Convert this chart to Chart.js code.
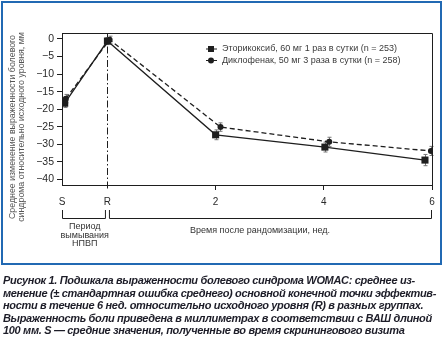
<!DOCTYPE html>
<html lang="ru">
<head>
<meta charset="utf-8">
<script src="https://cdn.jsdelivr.net/npm/chart.js@4.4.0/dist/chart.umd.min.js"></script>
<style>
    body { margin: 0; background: #fff; }
    #wrap { position: relative; width: 443px; height: 338px; overflow: hidden; }
    #myChart { position: absolute; left: 0; top: 0; }
    #frame {
        position: absolute; left: 1px; top: 1px; width: 441px; height: 264px;
        box-sizing: border-box; border: 2px solid #2169b3; pointer-events: none;
    }
    #caption {
        position: absolute; left: 3px; top: 274px; white-space: nowrap;
        font: italic bold 11px "Liberation Sans", Arial, sans-serif;
        letter-spacing: -0.33px;
        line-height: 12.6px; color: #1d1d28;
    }
</style>
</head>
<body>
<div id="wrap">
    <canvas id="myChart" width="443" height="266"></canvas>
    <div id="frame"></div>
    <div id="caption">
        Рисунок 1. Подшкала выраженности болевого синдрома WOMAC: среднее из-<br>
        менение (± стандартная ошибка среднего) основной конечной точки эффектив-<br>
        ности в течение 6 нед. относительно исходного уровня (R) в разных группах.<br>
        Выраженность боли приведена в миллиметрах в соответствии с ВАШ длиной<br>
        100 мм. S — средние значения, полученные во время скринингового визита
    </div>
</div>
<script>
// time points, weeks (S = screening visit, R = randomisation)
const xTickValues = [-0.84, 0, 2, 4, 6];
const xTickLabels = ['S', 'R', '2', '4', '6'];
const yTickValues = [0, -5, -10, -15, -20, -25, -30, -35, -40];

const etoLabel = 'Эторикоксиб, 60 мг 1 раз в сутки (n = 253)';
const etoX = [-0.79, 0, 2, 4.02, 5.87];
const etoY = [-18.3, -0.6, -27.3, -30.8, -34.5];
const etoErr = [1.2, 1.0, 1.4, 1.4, 1.6];

const dicloLabel = 'Диклофенак, 50 мг 3 раза в сутки (n = 258)';
const dicloX = [-0.77, 0.04, 2.09, 4.1, 5.98];
const dicloY = [-17.0, -0.2, -25.1, -29.3, -31.9];
const dicloErr = [1.2, 1.0, 1.2, 1.3, 1.3];

const yTitle = ['Среднее изменение выраженности болевого', 'синдрома относительно исходного уровня, мм'];
const washoutLabel = ['Период', 'вымывания', 'НПВП'];
const afterLabel = 'Время после рандомизации, нед.';

const toPoints = (xs, ys) => xs.map((x, i) => ({ x: x, y: ys[i] }));

const INK = '#1e1e1e';
const FONT = '"Liberation Sans", Arial, sans-serif';

const extras = {
    id: 'extras',
    beforeDatasetsDraw(chart) {
        const ctx = chart.ctx;
        const area = chart.chartArea;
        const xs = chart.scales.x;
        const ys = chart.scales.y;

        // dash-dot line at randomisation
        const rx = Math.round(xs.getPixelForValue(0)) + 0.5;
        ctx.save();
        ctx.strokeStyle = INK;
        ctx.lineWidth = 1;
        ctx.setLineDash([7, 2.5, 1.5, 2.5]);
        ctx.beginPath();
        ctx.moveTo(rx, area.top);
        ctx.lineTo(rx, area.bottom + 5);
        ctx.stroke();
        ctx.restore();

        // error bars (± SE)
        const bars = [[etoX, etoY, etoErr], [dicloX, dicloY, dicloErr]];
        ctx.save();
        ctx.strokeStyle = '#777';
        ctx.lineWidth = 1;
        bars.forEach(([bx, by, be]) => {
            bx.forEach((x, i) => {
                const px = Math.round(xs.getPixelForValue(x)) + 0.5;
                const top = ys.getPixelForValue(by[i] + be[i]);
                const bot = ys.getPixelForValue(by[i] - be[i]);
                ctx.beginPath();
                ctx.moveTo(px, top); ctx.lineTo(px, bot);
                ctx.moveTo(px - 2, top); ctx.lineTo(px + 2, top);
                ctx.moveTo(px - 2, bot); ctx.lineTo(px + 2, bot);
                ctx.stroke();
            });
        });
        ctx.restore();
    },
    afterDraw(chart) {
        const ctx = chart.ctx;
        const area = chart.chartArea;
        const xs = chart.scales.x;

        ctx.save();
        // top and right sides of the plot box
        ctx.strokeStyle = INK;
        ctx.lineWidth = 1;
        ctx.beginPath();
        ctx.moveTo(area.left, area.top + 0.5);
        ctx.lineTo(area.right + 0.5, area.top + 0.5);
        ctx.lineTo(area.right + 0.5, area.bottom);
        ctx.stroke();

        // legend
        ctx.font = '9px ' + FONT;
        ctx.textBaseline = 'middle';
        ctx.textAlign = 'left';
        chart.data.datasets.forEach((ds, i) => {
            const y = 49 + i * 11.5;
            ctx.strokeStyle = INK;
            ctx.setLineDash([]);
            ctx.beginPath();
            ctx.moveTo(206, y); ctx.lineTo(217, y);
            ctx.stroke();
            ctx.fillStyle = INK;
            if (ds.pointStyle === 'rect') {
                ctx.fillRect(208, y - 3, 6, 6);
            } else {
                ctx.beginPath();
                ctx.arc(211, y, 3, 0, Math.PI * 2);
                ctx.fill();
            }
            ctx.fillStyle = '#3a3a3a';
            ctx.fillText(ds.label, 222, y);
        });

        // y axis title
        ctx.save();
        ctx.translate(13, 127);
        ctx.rotate(-Math.PI / 2);
        ctx.font = '8.8px ' + FONT;
        ctx.fillStyle = '#555';
        ctx.textAlign = 'center';
        ctx.fillText(yTitle[0], 0, 0);
        ctx.fillText(yTitle[1], 0, 8.5);
        ctx.restore();

        // brackets under the time axis
        const sx = xs.getPixelForValue(xTickValues[0]);
        const rx = xs.getPixelForValue(0);
        const ex = xs.getPixelForValue(6);
        ctx.strokeStyle = INK;
        ctx.lineWidth = 1;
        ctx.beginPath();
        ctx.moveTo(sx + 0.5, 210); ctx.lineTo(sx + 0.5, 218.5); ctx.lineTo(rx - 2, 218.5); ctx.lineTo(rx - 2, 210);
        ctx.moveTo(rx + 2, 210); ctx.lineTo(rx + 2, 218.5); ctx.lineTo(ex - 0.5, 218.5); ctx.lineTo(ex - 0.5, 210);
        ctx.stroke();

        ctx.font = '9px ' + FONT;
        ctx.fillStyle = '#333';
        ctx.textAlign = 'center';
        washoutLabel.forEach((t, i) => ctx.fillText(t, (sx + rx) / 2, 227 + i * 8.5));
        ctx.fillText(afterLabel, 260, 231);
        ctx.restore();
    }
};

const ctx = document.getElementById('myChart');
new Chart(ctx, {
    type: 'line',
    data: {
        datasets: [{
            label: etoLabel,
            data: toPoints(etoX, etoY),
            borderColor: INK,
            backgroundColor: INK,
            borderWidth: 1.3,
            pointStyle: 'rect',
            pointRadius: 5,
            pointBorderWidth: 0,
            tension: 0
        }, {
            label: dicloLabel,
            data: toPoints(dicloX, dicloY),
            borderColor: INK,
            backgroundColor: INK,
            borderWidth: 1.3,
            borderDash: [5, 3],
            pointStyle: 'circle',
            pointRadius: 3,
            pointBorderWidth: 0,
            tension: 0
        }]
    },
    options: {
        responsive: false,
        animation: false,
        devicePixelRatio: 1,
        layout: { padding: { top: 33, right: 11, left: 0, bottom: 0 } },
        plugins: {
            legend: { display: false },
            tooltip: { enabled: false }
        },
        scales: {
            x: {
                type: 'linear',
                min: xTickValues[0],
                max: 6,
                afterBuildTicks: s => { s.ticks = xTickValues.map(v => ({ value: v })); },
                afterFit: s => { s.height = 81; },
                ticks: {
                    autoSkip: false,
                    maxRotation: 0,
                    padding: 6,
                    color: '#2a2a2a',
                    font: { family: FONT, size: 10 },
                    callback: (v, i) => xTickLabels[i]
                },
                grid: {
                    drawOnChartArea: false,
                    tickLength: 5,
                    tickColor: c => (c.tick && c.tick.value > 0 ? INK : 'rgba(0,0,0,0)')
                },
                border: { display: true, color: INK, width: 1 }
            },
            y: {
                min: -41.6,
                max: 1.7,
                afterBuildTicks: s => { s.ticks = yTickValues.map(v => ({ value: v })); },
                afterFit: s => { s.width = 62; },
                ticks: {
                    padding: 3,
                    color: '#2a2a2a',
                    font: { family: FONT, size: 10.5 },
                    callback: v => (v === 0 ? '0' : '\u2212' + Math.abs(v))
                },
                grid: {
                    drawOnChartArea: false,
                    tickLength: 5,
                    tickColor: INK
                },
                border: { display: true, color: INK, width: 1 }
            }
        }
    },
    plugins: [extras]
});
</script>
</body>
</html>
